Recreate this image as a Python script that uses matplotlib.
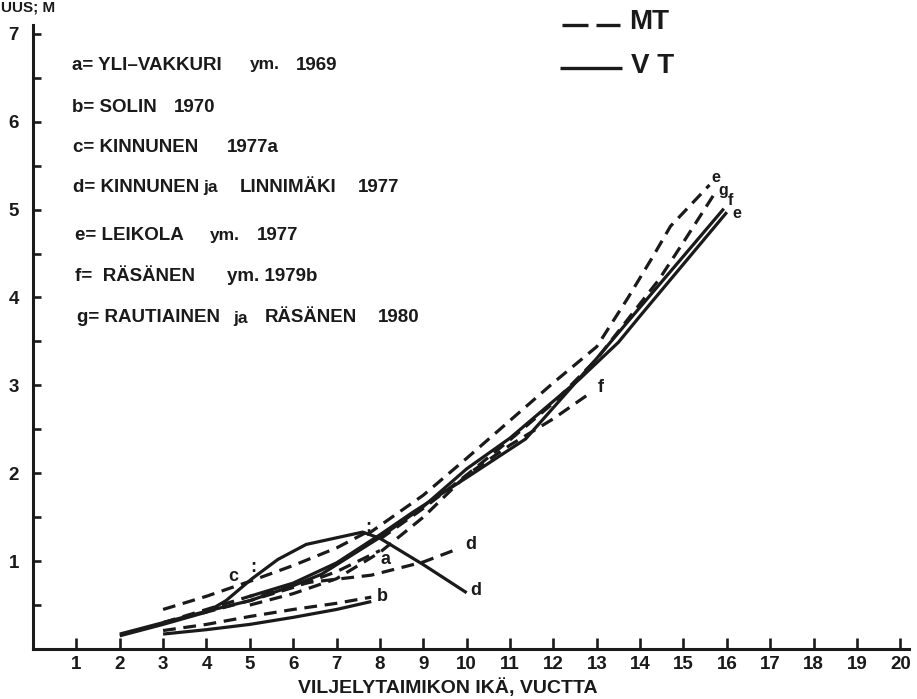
import matplotlib
matplotlib.use("Agg")
import matplotlib.pyplot as plt
from matplotlib.ticker import MultipleLocator

# ---------------- data ----------------
x_ticks = list(range(1, 21))
y_ticks = [1, 2, 3, 4, 5, 6, 7]

# VT (solid)
vt_b_x = [3, 4, 5, 6, 7, 7.8]
vt_b_y = [0.17, 0.22, 0.28, 0.36, 0.45, 0.54]
vt_d_x = [2, 3, 4, 4.45, 5.05, 5.65, 6.3, 7.6, 8, 9, 10]
vt_d_y = [0.15, 0.28, 0.42, 0.55, 0.8, 1.02, 1.19, 1.33, 1.26, 0.96, 0.64]
vt_e_x = [2, 3, 4, 5, 6, 6.65, 8, 9, 10, 11, 12, 12.6, 13.5, 14, 15, 16]
vt_e_y = [0.17, 0.3, 0.43, 0.55, 0.72, 0.85, 1.27, 1.62, 2.05, 2.4, 2.82, 3.07, 3.49, 3.79, 4.38, 4.97]
vt_f_x = [5, 6, 7, 8, 8.74, 10, 11.36, 12.58, 13.04, 14, 15, 15.93]
vt_f_y = [0.6, 0.75, 0.98, 1.3, 1.55, 1.95, 2.39, 3.07, 3.33, 3.89, 4.47, 5.01]

# MT (dashed)
mt_a_x = [3, 4, 5, 6, 7, 8]
mt_a_y = [0.3, 0.42, 0.55, 0.7, 0.88, 1.12]
mt_b_x = [3, 4, 5, 6, 7, 7.8]
mt_b_y = [0.21, 0.28, 0.37, 0.45, 0.52, 0.59]
mt_c_x = [3, 4, 5, 6, 7, 7.7]
mt_c_y = [0.45, 0.6, 0.77, 0.95, 1.15, 1.33]
mt_d_x = [3, 4, 5, 6.4, 7.8, 9, 9.8]
mt_d_y = [0.3, 0.45, 0.6, 0.76, 0.84, 0.99, 1.14]
mt_e_x = [7.7, 9, 10, 11, 12, 13, 13.7, 14.3, 14.7, 15.6]
mt_e_y = [1.3, 1.75, 2.17, 2.6, 3.03, 3.44, 3.98, 4.47, 4.81, 5.28]
mt_f_x = [5, 6, 7, 8, 9, 10, 11, 12, 12.9]
mt_f_y = [0.5, 0.63, 0.8, 1.1, 1.5, 1.98, 2.32, 2.62, 2.93]
mt_g_x = [8, 9, 10, 11, 12, 13, 14, 14.43, 15, 15.74]
mt_g_y = [1.25, 1.6, 1.98, 2.38, 2.8, 3.3, 3.93, 4.2, 4.63, 5.2]

# ---------------- figure ----------------
W, H = 917, 699
fig = plt.figure(figsize=(W / 100, H / 100), dpi=100)
fig.patch.set_facecolor("white")
ax = fig.add_axes([33 / W, 50 / H, 876 / W, 624 / H])
ax.set_xlim(0, 20.2)
ax.set_ylim(0, 7.1)

INK = "#1a1a1a"
FONT = "Liberation Sans"
lw = 2.3
dash = (4.0, 2.4)

solids = [(vt_b_x, vt_b_y), (vt_d_x, vt_d_y), (vt_e_x, vt_e_y), (vt_f_x, vt_f_y)]
dashed = [(mt_a_x, mt_a_y), (mt_b_x, mt_b_y), (mt_c_x, mt_c_y), (mt_d_x, mt_d_y),
          (mt_e_x, mt_e_y), (mt_f_x, mt_f_y), (mt_g_x, mt_g_y)]
for xs, ys in solids:
    ax.plot(xs, ys, color=INK, lw=lw, solid_capstyle="butt", solid_joinstyle="miter")
for xs, ys in dashed:
    ax.plot(xs, ys, color=INK, lw=lw, linestyle=(0, dash), dash_capstyle="butt")

# curve labels
lab_kw = dict(color=INK, fontsize=13, fontweight="bold", family=FONT, ha="center", va="center")
ax.text(4.62, 0.83, "c", **lab_kw)
ax.text(8.13, 1.02, "a", **lab_kw)
ax.text(8.05, 0.6, "b", **lab_kw)
ax.text(10.1, 1.19, "d", **lab_kw)
ax.text(10.2, 0.66, "d", **lab_kw)
ax.text(13.1, 2.98, "f", **lab_kw)
end_kw = dict(lab_kw, fontsize=11.5)
ax.text(15.74, 5.36, "e", **end_kw)
ax.text(15.92, 5.22, "g", **end_kw)
ax.text(16.08, 5.1, "f", **end_kw)
ax.text(16.22, 4.96, "e", **end_kw)
# dotted marks
ax.text(5.09, 0.93, ":", **lab_kw)
ax.text(7.74, 1.38, ":", **lab_kw)

# axes styling
for s in ["top", "right"]:
    ax.spines[s].set_visible(False)
for s in ["left", "bottom"]:
    ax.spines[s].set_linewidth(2.2)
    ax.spines[s].set_color(INK)

ax.set_xticks(x_ticks)
ax.set_xticklabels([str(v) for v in x_ticks])
ax.set_yticks(y_ticks)
ax.set_yticklabels([str(v) for v in y_ticks])
ax.yaxis.set_minor_locator(MultipleLocator(0.5))
ax.tick_params(axis="x", direction="in", length=8, width=1.9, color=INK, pad=5)
ax.tick_params(axis="y", which="major", direction="in", length=6, width=1.9, color=INK, pad=10)
ax.tick_params(axis="y", which="minor", direction="in", length=6, width=1.9, color=INK)
for t in ax.get_xticklabels() + ax.get_yticklabels():
    t.set_family(FONT)
    t.set_fontweight("bold")
    t.set_fontsize(13.5)
    t.set_color(INK)

# x-axis title
ax.text((448 - 33) / 876, -(688 - 649) / 624, "VILJELYTAIMIKON IKÄ, VUCTTA",
        transform=ax.transAxes, family=FONT, fontweight="bold", fontsize=14,
        color=INK, ha="center", va="center")

# y-axis label (top-left corner, as visible in the scan)
fig.text(1 / W, 1 - 12 / H, "UUS; M", family=FONT, fontweight="bold", fontsize=11,
         color=INK, ha="left", va="baseline")

def px(xp, yp):
    return xp / W, 1 - yp / H

# legend for line styles
for x0, x1 in [(562, 588), (596, 620)]:
    fig.lines.append(plt.Line2D([x0 / W, x1 / W], [1 - 25 / H, 1 - 25 / H],
                                transform=fig.transFigure, color=INK, lw=2.4,
                                solid_capstyle="butt"))
fig.lines.append(plt.Line2D([560 / W, 622 / W], [1 - 68 / H, 1 - 68 / H], transform=fig.transFigure,
                            color=INK, lw=2.4, solid_capstyle="butt"))
fig.text(*px(629, 22), "MT", family=FONT, fontweight="bold", fontsize=20, color=INK, va="center")
fig.text(*px(631, 66), "V T", family=FONT, fontweight="bold", fontsize=20, color=INK, va="center")

# source list
rows = [
    (65, [("a= YLI–VAKKURI", 72, 13.5), ("ym.", 250, 12.5), ("1969", 296, 13.5)]),
    (108, [("b= SOLIN", 72, 13.5), ("1970", 174, 13.5)]),
    (148, [("c= KINNUNEN", 73, 13.5), ("1977a", 227, 13.5)]),
    (188, [("d= KINNUNEN", 73, 13.5), ("ja", 203, 12.5), ("LINNIMÄKI", 240, 13.5), ("1977", 358, 13.5)]),
    (235, [("e= LEIKOLA", 75, 13.5), ("ym.", 210, 12.5), ("1977", 257, 13.5)]),
    (277, [("f=  RÄSÄNEN", 75, 13.5), ("ym. 1979b", 227, 13.5)]),
    (318, [("g= RAUTIAINEN", 77, 13.5), ("ja", 233, 12.5), ("RÄSÄNEN", 265, 13.5), ("1980", 378, 13.5)]),
]
for yp, pieces in rows:
    for txt, xp, fs in pieces:
        fig.text(*px(xp, yp), txt, family=FONT, fontweight="bold", fontsize=fs, color=INK,
                 ha="left", va="center")

fig.savefig("out.png", dpi=100, facecolor="white")
